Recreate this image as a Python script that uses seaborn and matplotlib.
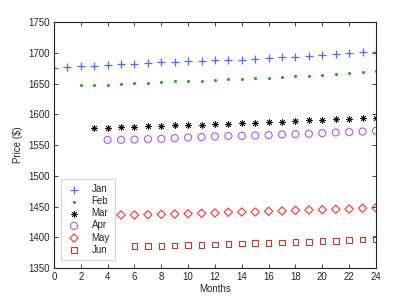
import numpy as np
import pandas as pd
import seaborn as sns
import matplotlib
matplotlib.use('Agg')
import matplotlib.pyplot as plt

sns.set_style('ticks')
plt.rcParams['font.family'] = ['Liberation Sans', 'DejaVu Sans']
plt.rcParams.update({
    'font.size': 7,
    'xtick.direction': 'in',
    'ytick.direction': 'in',
    'xtick.top': True,
    'ytick.right': True,
    'xtick.major.size': 3,
    'ytick.major.size': 3,
})

# Series (first month each series starts at)
months_jan = list(range(0, 25))
price_jan = [1675, 1677, 1678, 1679, 1680, 1682, 1682, 1683, 1684.5, 1685, 1686, 1686.5, 1688,
             1688.5, 1689, 1690, 1691, 1692.5, 1694, 1695, 1697, 1698, 1699.5, 1700.6, 1701.7]
months_feb = list(range(2, 25))
price_feb = [1647.7, 1648, 1648.4, 1649.4, 1650.5, 1651.5, 1652.6, 1653.7, 1654.3, 1654.9, 1656, 1657,
             1657.5, 1658.6, 1659.6, 1660.7, 1661.8, 1663, 1664.6, 1665.6, 1667.3, 1668.4, 1670]
months_mar = list(range(3, 25))
price_mar = [1577.8, 1578, 1579, 1580, 1580.6, 1581.6, 1582.2, 1582.7, 1583.2, 1584.3, 1584.8,
             1585.4, 1586, 1587, 1588, 1589, 1590.2, 1591.3, 1592.4, 1593, 1593.5, 1594.5]
months_apr = list(range(4, 25))
price_apr = [1558.6, 1558.6, 1559, 1559.7, 1560.2, 1561.3, 1562.3, 1563, 1564, 1564.8,
             1565, 1565.6, 1566.2, 1567.3, 1567.8, 1568.4, 1569.4, 1570.5, 1571.1, 1572.1, 1573.2]
months_may = list(range(5, 25))
price_may = [1436.4, 1436.4, 1437, 1437.5, 1438, 1438.6, 1439.2, 1439.7, 1440.8, 1441.3,
             1441.3, 1442.4, 1443, 1444, 1444.6, 1445.1, 1445.7, 1446.2, 1447.3, 1447.9]
months_jun = list(range(6, 25))
price_jun = [1386.3, 1386.3, 1386.3, 1386.9, 1387.4, 1388, 1388.5, 1389.6, 1390.1, 1390.7,
             1391.2, 1391.8, 1392.3, 1392.8, 1394, 1394.5, 1395.6, 1396.7, 1397.2]

labels = ['Jan', 'Feb', 'Mar', 'Apr', 'May', 'Jun']
xs = [months_jan, months_feb, months_mar, months_apr, months_may, months_jun]
ys = [price_jan, price_feb, price_mar, price_apr, price_may, price_jun]
colors = ['#4a6cff', '#22aa22', '#111111', '#b455ff', '#ff3333', '#b8402e']
markers = ['+', 'o', (8, 2, 0), 'o', 'D', 's']
sizes = [28, 5, 16, 26, 18, 16]
widths = [0.9, 0, 0.6, 0.8, 0.8, 0.8]
hollow = [False, False, False, True, True, True]

fig = plt.figure(figsize=(4.15, 3.02), dpi=100)
ax = fig.add_axes([0.130, 0.112, 0.776, 0.815])

for x, y, lab, c, m, s, lw, h in zip(xs, ys, labels, colors, markers, sizes, widths, hollow):
    df = pd.DataFrame({'Months': x, 'Price': y})
    if h:
        sns.scatterplot(data=df, x='Months', y='Price', marker=m, s=s, ax=ax, label=lab,
                        facecolor='none', edgecolor=c, linewidth=lw)
    else:
        sns.scatterplot(data=df, x='Months', y='Price', marker=m, s=s, ax=ax, label=lab,
                        color=c, edgecolor=c, linewidth=lw)

ax.set_xlim(0, 24)
ax.set_ylim(1350, 1750)
ax.set_xticks(np.arange(0, 25, 2))
ax.set_yticks(np.arange(1350, 1751, 50))
ax.set_xlabel('Months', fontsize=7, labelpad=1)
ax.set_ylabel('Price ($)', fontsize=7, labelpad=4)
ax.tick_params(labelsize=7, width=0.6, pad=3)
for sp in ax.spines.values():
    sp.set_linewidth(0.8)
    sp.set_color('#222222')

leg = ax.legend(loc='lower left', fontsize=7, frameon=True, fancybox=False,
                edgecolor='#cccccc', borderpad=0.5, labelspacing=0.22,
                handlelength=1.6, handletextpad=1.0, bbox_to_anchor=(0.008, 0.015))
leg.get_frame().set_linewidth(0.8)

fig.savefig('out.png', dpi=100)
